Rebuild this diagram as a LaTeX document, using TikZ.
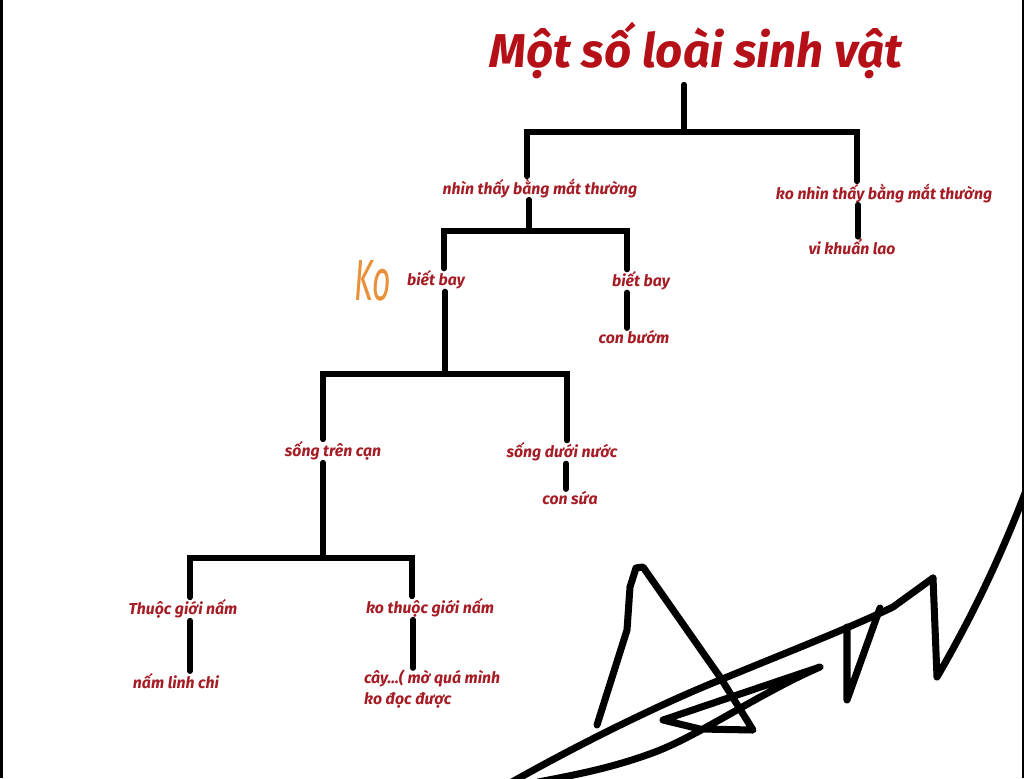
\documentclass[tikz,border=0pt]{standalone}
\usepackage{fontspec}
\setmainfont{Fira Sans}
\usetikzlibrary{positioning}
\definecolor{tree-red}{HTML}{A51C24}
\definecolor{title-red}{HTML}{B50F17}
\definecolor{mark-orange}{HTML}{E8913A}

\begin{document}
\begin{tikzpicture}[x=0.02cm,y=-0.02cm,
    txt/.style={text=tree-red, font=\fontsize{9}{11.5}\selectfont\bfseries\itshape, inner sep=1pt},
    branch/.style={line width=3.1pt, line cap=round},
    pen/.style={line width=4pt, line cap=round, line join=round}]
    % page
    \fill[white] (0,0) rectangle (1024,778);
    \useasboundingbox (0,0) rectangle (1024,778);
    \fill[black] (0,0) rectangle (3,778);
    \fill[black] (1022,0) rectangle (1024,778);

    % labels
    \node[text=title-red, font=\fontsize{27}{30}\selectfont\bfseries\itshape] (title) at (696,50) {Một số loài sinh vật};
    \node[txt] (nhin) at (540,188) {nhìn thấy bằng mắt thường};
    \node[txt] (konhin) at (884,193) {ko nhìn thấy bằng mắt thường};
    \node[txt] (vikhuan) at (852,247) {vi khuẩn lao};
    \node[txt] (bay1) at (436,280) {biết bay};
    \node[txt] (bay2) at (641,281) {biết bay};
    \node[txt] (buom) at (634,337) {con bướm};
    \node[txt] (can) at (333,451) {sống trên cạn};
    \node[txt] (nuoc) at (562,452) {sống dưới nước};
    \node[txt] (sua) at (570,498) {con sứa};
    \node[txt] (nam) at (183,609) {Thuộc giới nấm};
    \node[txt] (konam) at (430,608) {ko thuộc giới nấm};
    \node[txt] (linhchi) at (176,681) {nấm linh chi};
    \node[txt, anchor=west, align=left] (cay) at (362,689) {cây...( mờ quá mình\\ko đọc được};
    \node[text=mark-orange, font=\fontsize{33}{33}\selectfont\itshape] (ko) at (373,281) {\scalebox{0.55}[1]{Ko}};

    % bars
    \coordinate (b1l) at (527,132); \coordinate (b1c) at (684,132); \coordinate (b1r) at (857,132);
    \coordinate (b2l) at (444,231); \coordinate (b2c) at (529,231); \coordinate (b2r) at (627,231);
    \coordinate (b3l) at (323,374); \coordinate (b3c) at (445,374); \coordinate (b3r) at (567,374);
    \coordinate (b4l) at (190,558); \coordinate (b4c) at (323,558); \coordinate (b4r) at (412,558);

    % tree
    \draw[branch] (title.south -| b1c) -- (b1c);
    \draw[branch] (nhin.north -| b1l) -- (b1l) -- (b1r) -- (konhin.north -| b1r);
    \draw[branch] (nhin.south -| b2c) -- (b2c);
    \draw[branch] (bay1.north -| b2l) -- (b2l) -- (b2r) -- (bay2.north -| b2r);
    \draw[branch] (konhin.south -| 858,0) -- (vikhuan.north -| 858,0);
    \draw[branch] (bay2.south -| b2r) -- (buom.north -| b2r);
    \draw[branch] (bay1.south -| b3c) -- (b3c);
    \draw[branch] (can.north -| b3l) -- (b3l) -- (b3r) -- (nuoc.north -| b3r);
    \draw[branch] (nuoc.south -| 566,0) -- (sua.north -| 566,0);
    \draw[branch] (can.south -| b4c) -- (b4c);
    \draw[branch] (nam.north -| b4l) -- (b4l) -- (b4r) -- (konam.north -| b4r);
    \draw[branch] (nam.south -| b4l) -- (linhchi.north -| b4l);
    \draw[branch] (konam.south -| 413,0) -- (cay.north -| 413,0);

    % signature
    \begin{scope}
    \clip (0,0) rectangle (1024,778);
    \draw[pen] (597,725) -- (627,630) -- (630,587) -- (636,568) -- (643,567)
        -- (720,677) -- (753,730) -- (700,729) -- (663,720) -- (820,667)
        .. controls (760,693) and (700,735) .. (655,752)
        .. controls (615,767) and (580,774) .. (538,782);
    \draw[pen] (512,782) .. controls (590,738) and (670,700) .. (720,680)
        .. controls (780,655) and (850,628) .. (893,607) -- (933,578);
    \draw[pen] (847,627) -- (847,700) -- (880,608);
    \draw[pen] (933,578) -- (937,677) .. controls (970,620) and (1000,560) .. (1030,480);
    \end{scope}
\end{tikzpicture}
\end{document}
